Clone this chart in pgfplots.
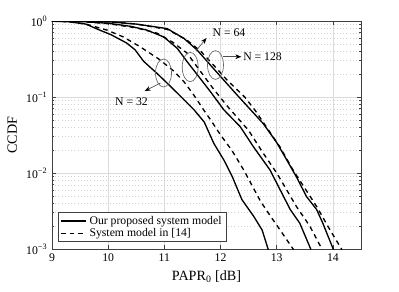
\documentclass[border=0pt]{standalone}
\usepackage{fontspec}
\setmainfont{Liberation Serif}
\usepackage{pgfplots}
\pgfplotsset{compat=1.18}
\usetikzlibrary{arrows.meta}
\begin{document}
\begin{tikzpicture}
\path[use as bounding box] (-39pt,-32.25pt) rectangle (260.25pt,186.75pt);
\begin{axis}[
  at={(0,0)}, anchor=south west,
  scale only axis, width=231.75pt, height=171pt,
  xmin=9, xmax=14.5, ymode=log, ymin=1e-3, ymax=1,
  xtick={9,10,11,12,13,14},
  ytick={1e-3,1e-2,1e-1,1},
  yticklabels={10\textsuperscript{−3},10\textsuperscript{−2},10\textsuperscript{−1},10\textsuperscript{0}},
  minor ytick={2e-3,3e-3,4e-3,5e-3,6e-3,7e-3,8e-3,9e-3,2e-2,3e-2,4e-2,5e-2,6e-2,7e-2,8e-2,9e-2,0.2,0.3,0.4,0.5,0.6,0.7,0.8,0.9},
  xmajorgrids=true, ymajorgrids=true, yminorgrids=true,
  major grid style={black!14, line width=0.4pt},
  minor grid style={black!18, dotted, line width=0.4pt},
  tick align=inside,
  major tick length=3pt, minor tick length=1.8pt,
  axis line style={black!75, line width=0.5pt},
  every tick/.style={black!75, line width=0.5pt},
  xlabel={PAPR\textsubscript{0} [dB]}, ylabel={CCDF},
  label style={font=\fontsize{10.6}{12}\selectfont},
  tick label style={font=\fontsize{8.8}{10}\selectfont},
  /pgf/number format/assume math mode=true,
  legend style={at={(0.019,0.031)}, anchor=south west, draw=black!75, line width=0.5pt,
    font=\fontsize{8.8}{10}\selectfont, inner xsep=1.5pt, inner ysep=0.5pt, row sep=-2.5pt},
  legend cell align=left,
  legend image code/.code={\draw[#1] (0pt,0pt) -- (19pt,0pt);},
]
% N = 32
\addplot[black, line width=1pt] coordinates {
(9.0,0.9931) (9.3,0.9772) (9.6,0.912) (9.85,0.7586) (10.05,0.6607) (10.33,0.5129) (10.48,0.4169) (10.63,0.2951) (10.87,0.2042) (11.11,0.138) (11.3,0.1) (11.53,0.06761) (11.71,0.04677) (11.88,0.02455) (12.06,0.01479) (12.21,0.008913) (12.38,0.004467) (12.59,0.002692) (12.74,0.001778) (12.85,0.00098)};
\addlegendentry{Our proposed system model}
\addplot[black, line width=1pt, dash pattern=on 3.5pt off 3pt] coordinates {
(9.0,0.9954) (9.3,0.9772) (9.6,0.912) (9.98,0.7586) (10.27,0.6166) (10.57,0.4571) (10.9,0.3162) (11.17,0.2188) (11.35,0.1585) (11.52,0.1072) (11.7,0.06761) (11.85,0.04677) (12.0,0.03162) (12.2,0.01995) (12.42,0.01072) (12.55,0.007079) (12.71,0.004266) (12.9,0.00263) (13.06,0.001778) (13.18,0.001318) (13.3,0.00098)};
\addlegendentry{System model in [14]}
% N = 64
\addplot[black, line width=1pt, forget plot] coordinates {
(9.0,0.9977) (9.5,0.9886) (10.0,0.9333) (10.4,0.8511) (10.69,0.7586) (10.99,0.6166) (11.23,0.4365) (11.40,0.2951) (11.6,0.1905) (11.82,0.1175) (12.06,0.06761) (12.35,0.04074) (12.59,0.02188) (12.88,0.01096) (13.06,0.006026) (13.24,0.003311) (13.41,0.002188) (13.61,0.00098)};
\addplot[black, line width=1pt, dash pattern=on 3.5pt off 3pt, forget plot] coordinates {
(9.0,0.9977) (9.5,0.9863) (10.0,0.9226) (10.5,0.8128) (10.87,0.6918) (11.15,0.5248) (11.40,0.3802) (11.64,0.2188) (11.88,0.1259) (12.12,0.07586) (12.5,0.03631) (12.76,0.0182) (13.0,0.01) (13.35,0.003631) (13.59,0.001995) (13.81,0.00098)};
% N = 128
\addplot[black, line width=1pt, forget plot] coordinates {
(9.0,1.0) (9.5,0.9954) (10.0,0.9772) (10.5,0.912) (11.05,0.7943) (11.35,0.5888) (11.58,0.4169) (11.82,0.263) (12.06,0.166) (12.29,0.1072) (12.5,0.07244) (12.76,0.04467) (13.0,0.02512) (13.18,0.01479) (13.35,0.008913) (13.53,0.004898) (13.71,0.003311) (13.82,0.002188) (14.01,0.00098)};
\addplot[black, line width=1pt, dash pattern=on 3.5pt off 3pt, forget plot] coordinates {
(9.0,1.0) (10.0,0.9772) (10.5,0.912) (11.05,0.7762) (11.4,0.5623) (11.65,0.3981) (11.9,0.2512) (12.12,0.166) (12.43,0.1) (12.62,0.06607) (13.06,0.02188) (13.29,0.01096) (13.5,0.00631) (13.71,0.003631) (13.91,0.001995) (14.16,0.00098)};
% annotations
\draw[black!60, line width=0.5pt] (axis cs:10.985,0.207) ellipse [x radius=6pt, y radius=10.5pt];
\draw[black!60, line width=0.5pt] (axis cs:11.46,0.248) ellipse [x radius=6pt, y radius=11pt];
\draw[black!60, line width=0.5pt] (axis cs:11.91,0.2636) ellipse [x radius=6pt, y radius=10.8pt];
\draw[black!70, line width=0.5pt, -{Stealth[length=4.5pt,width=3.5pt,black]}] (axis cs:10.93,0.1528) -- (axis cs:10.65,0.1199);
\draw[black!70, line width=0.5pt, -{Stealth[length=4.5pt,width=3.5pt,black]}] (axis cs:11.56,0.4027) -- (axis cs:11.75,0.597);
\draw[black!70, line width=0.5pt, -{Stealth[length=4.5pt,width=3.5pt,black]}] (axis cs:12.04,0.3388) -- (axis cs:12.37,0.3388);
\node[font=\fontsize{8.8}{10}\selectfont] at (axis cs:10.415,0.0873) {N = 32};
\node[font=\fontsize{8.8}{10}\selectfont] at (axis cs:12.15,0.695) {N = 64};
\node[font=\fontsize{8.8}{10}\selectfont, anchor=west, inner sep=0pt] at (axis cs:12.40,0.3388) {N = 128};
\end{axis}
\end{tikzpicture}
\end{document}
